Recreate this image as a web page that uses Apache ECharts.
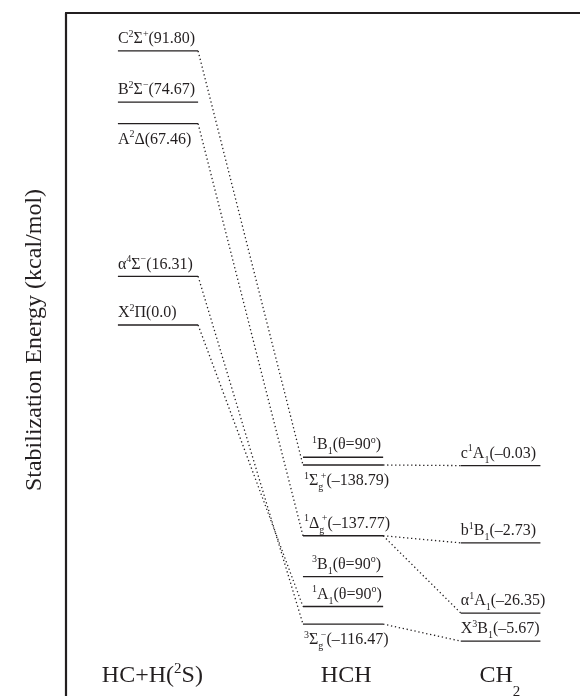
<!DOCTYPE html>
<html>
<head>
<meta charset="utf-8">
<script src="https://cdn.jsdelivr.net/npm/echarts@6/dist/echarts.min.js"></script>
<style>
  html, body { margin: 0; padding: 0; background: #ffffff; }
  #chart { width: 580px; height: 696px; }
</style>
</head>
<body>
<div id="chart"></div>
<script>
// HC + H(2S) asymptotes: stabilization energies (kcal/mol) relative to X2Pi
const hcTerms = ['C{sup|2}Σ{sup|+}', 'B{sup|2}Σ{sup|−}', 'A{sup|2}Δ', 'α{sup|4}Σ{sup|−}', 'X{sup|2}Π'];
const hcEnergy = [91.80, 74.67, 67.46, 16.31, 0.0];

// HCH (linear / bent at 90 deg) states: quoted energies and drawn level heights
const hchTerms = [
  '{sup|1}B{sub|1}(θ=90{sup|o})',
  '{sup|1}Σ{subk|g}{sup|+}',
  '{sup|1}Δ{subk|g}{sup|+}',
  '{sup|3}B{sub|1}(θ=90{sup|o})',
  '{sup|1}A{sub|1}(θ=90{sup|o})',
  '{sup|3}Σ{subk|g}{sup|−}'
];
const hchEnergy = [null, -138.79, -137.77, null, null, -116.47];
const hchLevel = [-44.3, -46.9, -70.6, -84.3, -94.3, -100.2];

// CH2 states: quoted energies and drawn level heights
const ch2Terms = ['c{sup|1}A{sub|1}', 'b{sup|1}B{sub|1}', 'α{sup|1}A{sub|1}', 'X{sup|3}B{sub|1}'];
const ch2Energy = [-0.03, -2.73, -26.35, -5.67];
const ch2Level = [-47.1, -73.0, -96.5, -105.9];

// column captions
const columnNames = ['HC+H({tsup|2}S)', 'HCH', 'CH{tsub|2}'];

// correlations: [from state index, to state index]
const hcToHch = [[0, 1], [2, 2], [3, 5], [4, 4]];
const hchToCh2 = [[1, 0], [2, 1], [2, 2], [5, 3]];

// ---- layout and style ----
const INK = '#231f20';
const SERIF = "'Liberation Serif', 'Times New Roman', serif";
const Y_MIN = -124.29, Y_MAX = 104.52;
const COLS = [
  { x0: 10.1, x1: 25.7 },
  { x0: 46.1, x1: 61.7 },
  { x0: 76.8, x1: 92.3 }
];
const TITLE_X = [16.8, 54.5, 84.4];
const hcSide = ['above', 'above', 'below', 'above', 'above'];
const hcIndent = [0, 0, 0, 0, 0];
const hchSide = ['above', 'below', 'above', 'above', 'above', 'below'];
const hchIndent = [9, 1, 1, 9, 9, 1];
const ch2Side = ['above', 'above', 'above', 'above'];
const ch2Indent = [0, 0, 0, 0];

const RICH = {
  sup: { fontSize: 10, fontFamily: SERIF, fill: INK, lineHeight: 20, padding: [0, 0, 10, 0] },
  sub: { fontSize: 10, fontFamily: SERIF, fill: INK, lineHeight: 20, padding: [13, 0, 0, 0] },
  // subscript that shares its column with the following superscript
  subk: { fontSize: 10, fontFamily: SERIF, fill: INK, lineHeight: 20, padding: [13, 0, 0, 0], width: 2.5 },
  tsup: { fontSize: 15, fontFamily: SERIF, fill: INK, lineHeight: 30, padding: [0, 0, 14, 0] },
  tsub: { fontSize: 15, fontFamily: SERIF, fill: INK, lineHeight: 30, padding: [32, 0, 0, 0] }
};

const fmt = v => '(' + (v === 0 ? v.toFixed(1) : v.toFixed(2)).replace('-', '–') + ')';
const hcLabels = hcTerms.map((t, i) => t + fmt(hcEnergy[i]));
const hchLabels = hchTerms.map((t, i) => hchEnergy[i] == null ? t : t + fmt(hchEnergy[i]));
const ch2Labels = ch2Terms.map((t, i) => t + fmt(ch2Energy[i]));

function levelSeries(levels, labels, col, sides, indents) {
  return {
    type: 'custom',
    coordinateSystem: 'cartesian2d',
    silent: true,
    data: levels.map((y, i) => [col.x0, y, i]),
    renderItem(params, api) {
      const y = api.value(1);
      const i = api.value(2);
      const a = api.coord([col.x0, y]);
      const b = api.coord([col.x1, y]);
      const above = sides[i] === 'above';
      return {
        type: 'group',
        children: [
          {
            type: 'line',
            shape: { x1: a[0], y1: a[1], x2: b[0], y2: b[1] },
            style: { stroke: INK, lineWidth: 1.3 }
          },
          {
            type: 'text',
            x: a[0] + indents[i],
            y: a[1] + (above ? -12 : 16),
            style: {
              text: labels[i], rich: RICH, fill: INK,
              fontSize: 16, fontFamily: SERIF, lineHeight: 20,
              align: 'left', verticalAlign: 'middle'
            }
          }
        ]
      };
    }
  };
}

function connectorSeries(pairs, fromLevels, toLevels, fromCol, toCol) {
  return {
    type: 'custom',
    coordinateSystem: 'cartesian2d',
    silent: true,
    data: pairs.map(([f, t]) => [fromCol.x1, fromLevels[f], toCol.x0, toLevels[t]]),
    renderItem(params, api) {
      const a = api.coord([api.value(0), api.value(1)]);
      const b = api.coord([api.value(2), api.value(3)]);
      return {
        type: 'line',
        shape: { x1: a[0], y1: a[1], x2: b[0], y2: b[1] },
        style: { stroke: INK, lineWidth: 1.3, lineDash: [1.3, 2.7] }
      };
    }
  };
}

const titleSeries = {
  type: 'custom',
  coordinateSystem: 'cartesian2d',
  silent: true,
  data: columnNames.map((n, i) => [TITLE_X[i], 0, i]),
  renderItem(params, api) {
    const i = api.value(2);
    const x = api.coord([api.value(0), 0])[0];
    const cs = params.coordSys;
    return {
      type: 'text',
      x: x,
      y: cs.y + cs.height - 20,
      style: {
        text: columnNames[i], rich: RICH, fill: INK,
        fontSize: 24, fontFamily: SERIF, lineHeight: 30,
        align: 'center', verticalAlign: 'middle'
      }
    };
  }
};

const chart = echarts.init(document.getElementById('chart'), null, { renderer: 'canvas' });
chart.setOption({
  animation: false,
  backgroundColor: '#ffffff',
  grid: { left: 66, top: 13, right: 0, bottom: 0 },
  xAxis: {
    type: 'value', min: 0, max: 100, position: 'top',
    axisLine: { show: true, onZero: false, lineStyle: { color: INK, width: 2.2 } },
    axisTick: { show: false }, axisLabel: { show: false }, splitLine: { show: false }
  },
  yAxis: {
    type: 'value', min: Y_MIN, max: Y_MAX,
    axisLine: { show: true, onZero: false, lineStyle: { color: INK, width: 2.2 } },
    axisTick: { show: false }, axisLabel: { show: false }, splitLine: { show: false },
    name: 'Stabilization Energy (kcal/mol)',
    nameLocation: 'middle', nameRotate: 90, nameGap: 19,
    nameTextStyle: { fontFamily: SERIF, fontSize: 24, color: INK, padding: [0, 0, 0, 29] }
  },
  series: [
    levelSeries(hcEnergy, hcLabels, COLS[0], hcSide, hcIndent),
    levelSeries(hchLevel, hchLabels, COLS[1], hchSide, hchIndent),
    levelSeries(ch2Level, ch2Labels, COLS[2], ch2Side, ch2Indent),
    connectorSeries(hcToHch, hcEnergy, hchLevel, COLS[0], COLS[1]),
    connectorSeries(hchToCh2, hchLevel, ch2Level, COLS[1], COLS[2]),
    titleSeries
  ]
});
</script>
</body>
</html>
